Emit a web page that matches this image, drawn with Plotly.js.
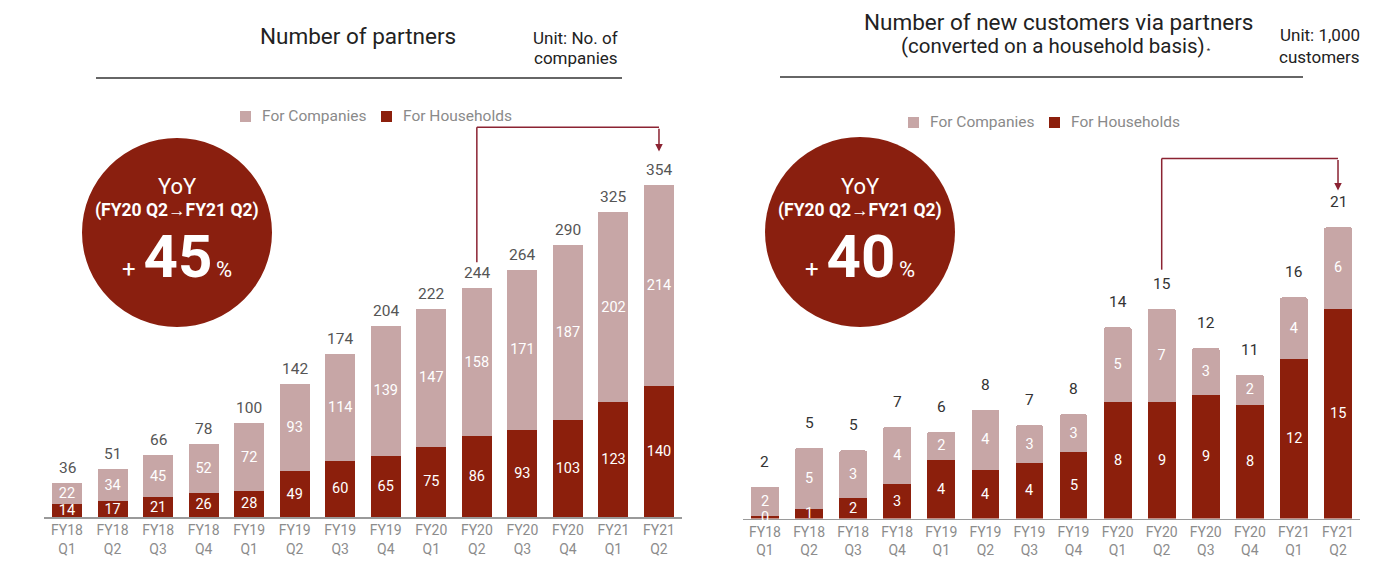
<!DOCTYPE html>
<html>
<head>
<meta charset="utf-8">
<script src="https://cdn.plot.ly/plotly-3.0.1.min.js"></script>
<style>html,body{margin:0;padding:0;background:#fff;}#chart{width:1387px;height:577px;}</style>
</head>
<body>
<div id="chart"></div>
<script>
// ---------- data ----------
const quarters = ['FY18<br>Q1','FY18<br>Q2','FY18<br>Q3','FY18<br>Q4','FY19<br>Q1','FY19<br>Q2','FY19<br>Q3','FY19<br>Q4','FY20<br>Q1','FY20<br>Q2','FY20<br>Q3','FY20<br>Q4','FY21<br>Q1','FY21<br>Q2'];

// Left: number of partners (companies)
const partnersHouseholds = [14,17,21,26,28,49,60,65,75,86,93,103,123,140];
const partnersCompanies  = [22,34,45,52,72,93,114,139,147,158,171,187,202,214];
const partnersTotalLabels = ['36','51','66','78','100','142','174','204','222','244','264','290','325','354'];

// Right: number of new customers via partners (1,000 customers) - bar heights estimated, labels as printed
const customersHouseholds = [0.15,0.65,1.5,2.45,4.2,3.5,4.0,4.75,8.35,8.4,8.85,8.15,11.45,15.1];
const customersCompanies  = [2.15,4.45,3.4,4.15,2.05,4.3,2.7,2.75,5.4,6.7,3.4,2.2,4.45,5.85];
const customersHouseholdLabels = ['0','1','2','3','4','4','4','5','8','9','9','8','12','15'];
const customersCompanyLabels   = ['2','5','3','4','2','4','3','3','5','7','3','2','4','6'];
const customersTotalLabels     = ['2','5','5','7','6','8','7','8','14','15','12','11','16','21'];

const seriesNames = ['For Companies','For Households'];

// ---------- style ----------
const W = 1387, H = 577;
const COL_COMP = '#c7a6a6';
const COL_HH = '#8c1f0c';
const COL_CIRCLE = '#8a1f0f';
const COL_ARROW = '#8b2332';
const FONT = 'Roboto, "Liberation Sans", sans-serif';
const px = x => x / W;
const py = y => 1 - y / H;

const sum = (a, b) => a.map((v, i) => v + b[i]);
const partnersTotals = sum(partnersHouseholds, partnersCompanies);
const customersTotals = sum(customersHouseholds, customersCompanies);

function barTrace(x, y, text, name, color, xa, ya) {
  return {
    type: 'bar', x: x, y: y, name: name, text: text,
    xaxis: xa, yaxis: ya,
    marker: {color: color, line: {width: 0}},
    textposition: 'inside', insidetextanchor: 'middle', textangle: 0, constraintext: 'none',
    textfont: {color: '#ffffff', size: 14.5, family: FONT},
    hoverinfo: 'skip', showlegend: false, cliponaxis: false
  };
}

const traces = [
  barTrace(quarters, partnersHouseholds, partnersHouseholds.map(String), seriesNames[1], COL_HH, 'x', 'y'),
  barTrace(quarters, partnersCompanies, partnersCompanies.map(String), seriesNames[0], COL_COMP, 'x', 'y'),
  barTrace(quarters, customersHouseholds, customersHouseholdLabels, seriesNames[1], COL_HH, 'x2', 'y2'),
  barTrace(quarters, customersCompanies, customersCompanyLabels, seriesNames[0], COL_COMP, 'x2', 'y2')
];
traces[2].width = 0.63; traces[3].width = 0.63;
traces[3].marker.cornerradius = 2;
// household labels on the right chart are placed as annotations (some segments are thinner than the text)
traces[2].textposition = 'none';

const annotations = [];
customersHouseholds.forEach((h, i) => annotations.push({
  x: quarters[i], y: h / 2, xref: 'x2', yref: 'y2', text: customersHouseholdLabels[i], showarrow: false,
  yanchor: 'middle', font: {size: 14.5, color: '#ffffff', family: FONT}
}));
// total labels
partnersTotals.forEach((t, i) => annotations.push({
  x: quarters[i], y: t, xref: 'x', yref: 'y', text: partnersTotalLabels[i], showarrow: false,
  yanchor: 'middle', yshift: 15, font: {size: 15.5, color: '#555555', family: FONT}
}));
customersTotals.forEach((t, i) => annotations.push({
  x: quarters[i], y: t, xref: 'x2', yref: 'y2', text: customersTotalLabels[i], showarrow: false,
  yanchor: 'middle', yshift: 25, font: {size: 15.5, color: '#333333', family: FONT}
}));

// titles
function txt(x, y, text, size, anchor, color) {
  annotations.push({xref: 'paper', yref: 'paper', x: px(x), y: py(y), text: text, showarrow: false,
    xanchor: anchor || 'center', yanchor: 'middle', font: {size: size, color: color || '#222', family: FONT}});
}
txt(358, 36, 'Number of partners', 22.5);
txt(620, 38, 'Unit: No. of', 17, 'right');
txt(620, 58, 'companies', 17, 'right');
txt(1058, 22, 'Number of new customers via partners', 22.5);
txt(1056, 46, '(converted on a household basis)<span style="font-size:8px"> *</span>', 20.5);
txt(1362, 35, 'Unit: 1,000', 17, 'right');
txt(1362, 57, 'customers', 17, 'right');

// legends (manual, one per chart)
function legend(xStart, yc) {
  txt(xStart + 15, yc, seriesNames[0], 15.5, 'left', '#8a8a8a');
  txt(xStart + 156, yc, seriesNames[1], 15.5, 'left', '#8a8a8a');
}
legend(245, 116);
legend(913, 122);

// YoY circles text
function yoy(cx, cy, pct) {
  txt(cx, cy - 45, 'YoY', 22, 'center', '#fff');
  txt(cx, cy - 22, '<b>(FY20 Q2→FY21 Q2)</b>', 17.5, 'center', '#fff');
  txt(cx, cy + 24, '<span style="font-size:24px">+</span><span style="font-size:16px">&nbsp;&nbsp;</span><b style="font-size:60px">' + pct + '</b><span style="font-size:14px">&nbsp;</span><span style="font-size:22px">%</span>', 22, 'center', '#fff');
}
yoy(177, 232, '45');
yoy(860, 232, '40');

// arrow heads
annotations.push(
  {xref: 'x', yref: 'y', axref: 'x', ayref: 'y', x: 13, y: 390, ax: 13, ay: 416, text: '', showarrow: true,
   arrowhead: 2, arrowsize: 1, arrowwidth: 1.5, arrowcolor: COL_ARROW, standoff: 0},
  {xref: 'x2', yref: 'y2', axref: 'x2', ayref: 'y2', x: 13, y: 23.6, ax: 13, ay: 25.9, text: '', showarrow: true,
   arrowhead: 2, arrowsize: 1, arrowwidth: 1.5, arrowcolor: COL_ARROW, standoff: 0}
);

const shapes = [
  // title rules
  {type: 'line', xref: 'paper', yref: 'paper', x0: px(96), x1: px(622), y0: py(78), y1: py(78), line: {color: '#333', width: 1.5}},
  {type: 'line', xref: 'paper', yref: 'paper', x0: px(780), x1: px(1303), y0: py(77), y1: py(77), line: {color: '#333', width: 1.5}},
  // legend squares
  {type: 'rect', xref: 'paper', yref: 'paper', x0: px(240), x1: px(251), y0: py(122), y1: py(111), fillcolor: COL_COMP, line: {width: 0}},
  {type: 'rect', xref: 'paper', yref: 'paper', x0: px(381), x1: px(392), y0: py(122), y1: py(111), fillcolor: COL_HH, line: {width: 0}},
  {type: 'rect', xref: 'paper', yref: 'paper', x0: px(908), x1: px(919), y0: py(128), y1: py(117), fillcolor: COL_COMP, line: {width: 0}},
  {type: 'rect', xref: 'paper', yref: 'paper', x0: px(1049), x1: px(1060), y0: py(128), y1: py(117), fillcolor: COL_HH, line: {width: 0}},
  // circles
  {type: 'circle', xref: 'paper', yref: 'paper', x0: px(177 - 95), x1: px(177 + 95), y0: py(232 - 94), y1: py(232 + 95), fillcolor: COL_CIRCLE, line: {width: 0}},
  {type: 'circle', xref: 'paper', yref: 'paper', x0: px(860 - 95), x1: px(860 + 95), y0: py(232 - 95), y1: py(232 + 95), fillcolor: COL_CIRCLE, line: {width: 0}},
  // bracket arrows (left)
  {type: 'line', xref: 'x', yref: 'y', x0: 9, x1: 9, y0: 272, y1: 416, line: {color: COL_ARROW, width: 1.5}},
  {type: 'line', xref: 'x', yref: 'y', x0: 9, x1: 13, y0: 416, y1: 416, line: {color: COL_ARROW, width: 1.5}},
  // bracket arrows (right)
  {type: 'line', xref: 'x2', yref: 'y2', x0: 9, x1: 9, y0: 17.9, y1: 25.9, line: {color: COL_ARROW, width: 1.5}},
  {type: 'line', xref: 'x2', yref: 'y2', x0: 9, x1: 13, y0: 25.9, y1: 25.9, line: {color: COL_ARROW, width: 1.5}}
];

const xaxisCommon = {
  type: 'category', showgrid: false, zeroline: false, showline: true, linecolor: '#9a9a9a', linewidth: 1.5,
  ticks: '', tickfont: {size: 14, color: '#8c8c8c', family: FONT}, fixedrange: true, range: [-0.5, 13.5]
};
const yaxisCommon = {showgrid: false, zeroline: false, showline: false, showticklabels: false, ticks: '', fixedrange: true};

const layout = {
  width: W, height: H, margin: {l: 0, r: 0, t: 0, b: 0},
  paper_bgcolor: '#fff', plot_bgcolor: 'rgba(0,0,0,0)',
  font: {family: FONT},
  barmode: 'stack', bargap: 0.34, showlegend: false,
  uniformtext: {mode: 'show', minsize: 14.5},
  xaxis: Object.assign({}, xaxisCommon, {domain: [px(44.25), px(681.75)], anchor: 'y'}),
  yaxis: Object.assign({}, yaxisCommon, {domain: [py(517), py(100)], range: [0, 417 / 0.937], anchor: 'x'}),
  xaxis2: Object.assign({}, xaxisCommon, {domain: [px(742.95), px(1360.05)], anchor: 'y2'}),
  yaxis2: Object.assign({}, yaxisCommon, {domain: [py(518.5), py(100)], range: [0, 418.5 / 13.9], anchor: 'x2'}),
  shapes: shapes, annotations: annotations
};

Plotly.newPlot('chart', traces, layout, {displayModeBar: false, staticPlot: true});
</script>
</body>
</html>
